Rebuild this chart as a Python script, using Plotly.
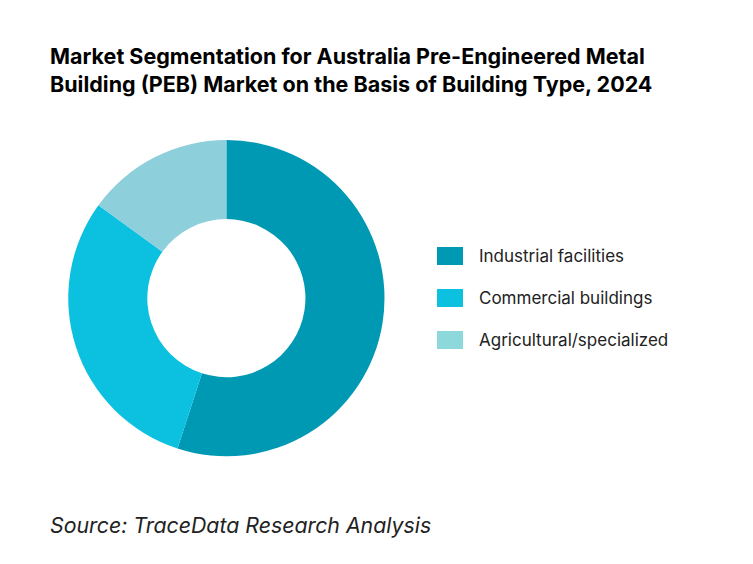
import plotly.graph_objects as go

categories = ["Industrial facilities", "Commercial buildings", "Agricultural/specialized"]
values = [55, 30, 15]
colors = ["#0099B4", "#0CC0DF", "#8DCFDB"]
legend_colors = ["#0099B4", "#0CC0DF", "#8DD8DA"]

W, H = 753, 564
fig = go.Figure(go.Pie(
    labels=categories, values=values, hole=0.5, sort=False, direction="clockwise",
    rotation=0, marker=dict(colors=colors, line=dict(width=0)), textinfo="none",
    hoverinfo="label+percent", domain=dict(x=[0.08, 0.50], y=[0.205, 0.766]),
    showlegend=False,
))
shapes, annots = [], []
for i, (c, lc) in enumerate(zip(categories, legend_colors)):
    yc = 248 + 42 * i
    shapes.append(dict(type="rect", xref="paper", yref="paper", x0=429/W, x1=455/W,
                       y0=1-(yc+9)/H, y1=1-(yc-9)/H, fillcolor=lc, line=dict(width=0)))
    annots.append(dict(text=c, x=469/W, y=1-yc/H, xref="paper", yref="paper", xanchor="left",
                       yanchor="middle", showarrow=False, font=dict(size=17, color="#222")))
annots += [
    dict(text="<b>Market Segmentation for Australia Pre-Engineered Metal<br>Building (PEB) Market on the Basis of Building Type, 2024</b>",
         x=40/W, y=1-33/H, xref="paper", yref="paper", xanchor="left", yanchor="top",
         align="left", showarrow=False, font=dict(size=21.5, color="black")),
    dict(text="<i>Source: TraceData Research Analysis</i>",
         x=40/W, y=1-517/H, xref="paper", yref="paper", xanchor="left", yanchor="middle",
         showarrow=False, font=dict(size=21.3, color="#222")),
]
fig.update_layout(
    width=W, height=H, margin=dict(l=0, r=0, t=0, b=0),
    paper_bgcolor="white", plot_bgcolor="white",
    font=dict(family="Inter", color="#222"),
    shapes=shapes, annotations=annots,
)
fig.write_html("out.html")
